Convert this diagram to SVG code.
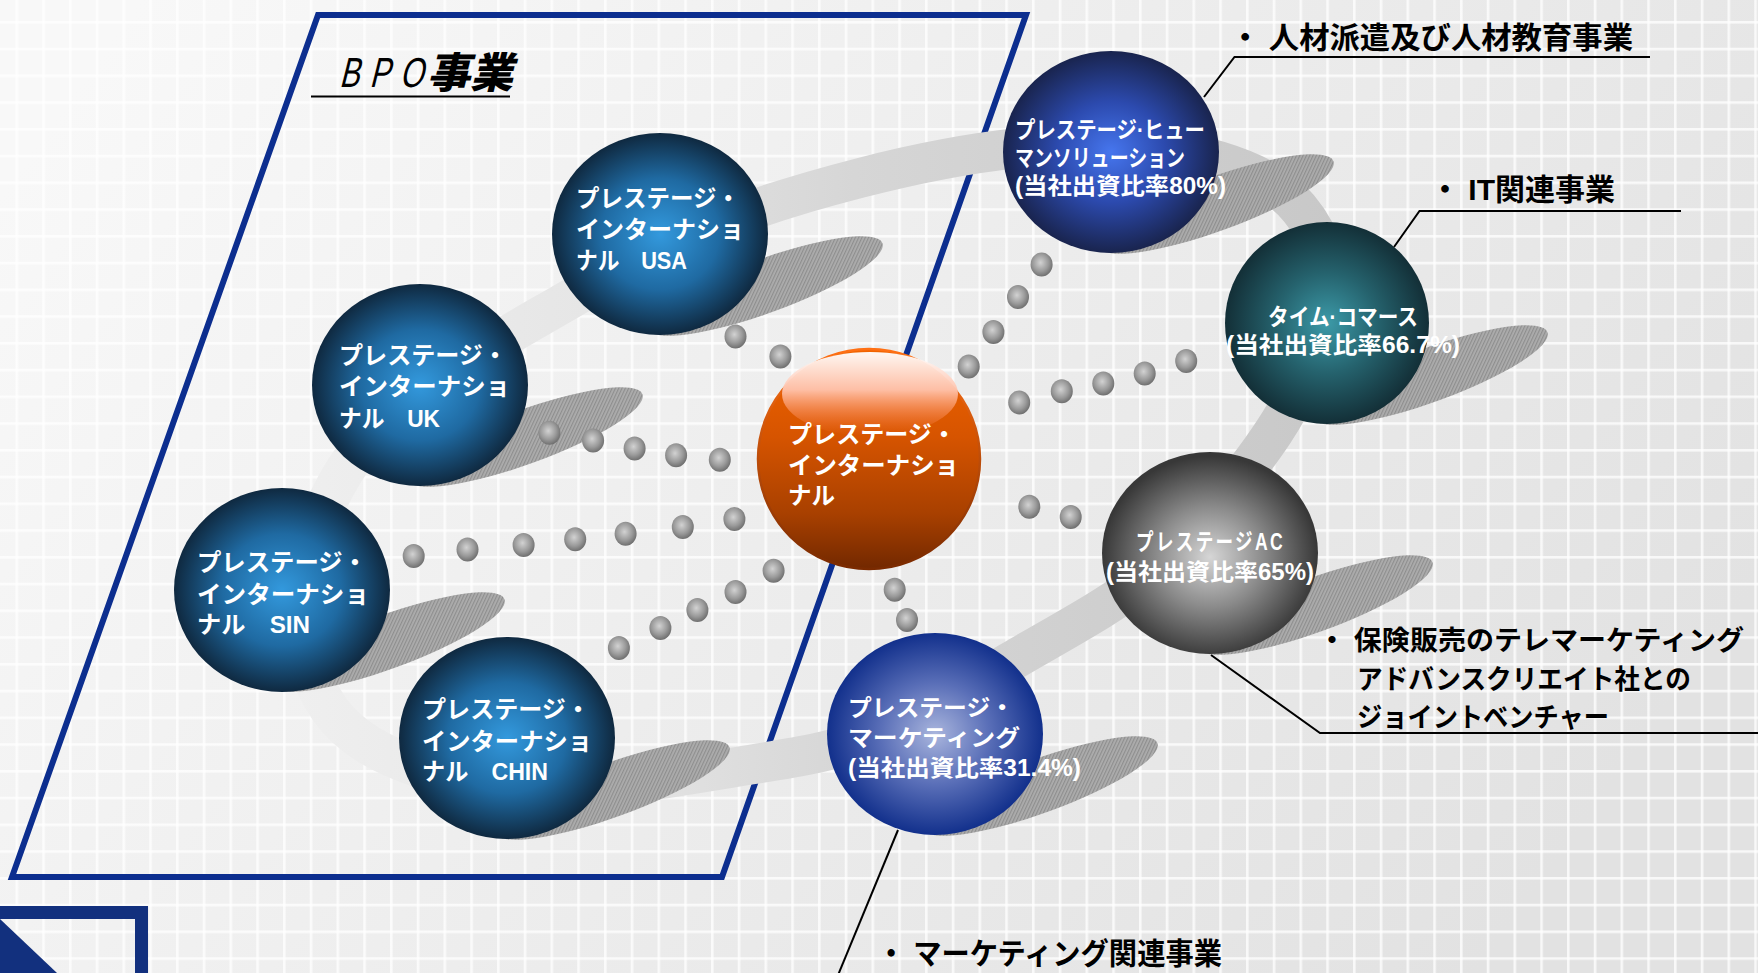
<svg xmlns="http://www.w3.org/2000/svg" width="1758" height="973" viewBox="0 0 1758 973">
  <defs>
    <linearGradient id="bg" x1="0" y1="0.2" x2="1" y2="0.6">
      <stop offset="0" stop-color="#f8f8f8"/>
      <stop offset="0.45" stop-color="#eeeeee"/>
      <stop offset="1" stop-color="#e2e2e2"/>
    </linearGradient>
    <pattern id="grid" x="15.5" y="21" width="26.75" height="26.75" patternUnits="userSpaceOnUse">
      <rect x="0" y="0" width="2.6" height="26.75" fill="#ffffff" opacity="0.75"/>
      <rect x="0" y="0" width="26.75" height="2.6" fill="#ffffff" opacity="0.75"/>
    </pattern>
    <linearGradient id="ringGrad" gradientUnits="userSpaceOnUse" x1="260" y1="0" x2="1340" y2="0">
      <stop offset="0" stop-color="#f0f0f0"/>
      <stop offset="0.3" stop-color="#e6e6e6"/>
      <stop offset="0.55" stop-color="#d6d6d6"/>
      <stop offset="1" stop-color="#c8c8c8"/>
    </linearGradient>
    <pattern id="hatch" width="3" height="3" patternUnits="userSpaceOnUse" patternTransform="rotate(45)">
      <rect width="3" height="3" fill="#adadad"/>
      <rect width="1.2" height="3" fill="#8e8e8e"/>
    </pattern>
    <radialGradient id="dotGrad" cx="0.45" cy="0.42" r="0.6">
      <stop offset="0" stop-color="#d2d2d2"/>
      <stop offset="0.6" stop-color="#9a9a9a"/>
      <stop offset="1" stop-color="#6c6c6c"/>
    </radialGradient>
    <radialGradient id="gBpo" cx="0.5" cy="0.5" r="0.5">
      <stop offset="0" stop-color="#3399dd"/>
      <stop offset="0.55" stop-color="#1f6aa2"/>
      <stop offset="1" stop-color="#0f2940"/>
    </radialGradient>
    <radialGradient id="gHuman" cx="0.5" cy="0.5" r="0.5">
      <stop offset="0" stop-color="#4676ee"/>
      <stop offset="0.5" stop-color="#2c4aae"/>
      <stop offset="1" stop-color="#19244e"/>
    </radialGradient>
    <radialGradient id="gTime" cx="0.5" cy="0.5" r="0.5">
      <stop offset="0" stop-color="#3c9aa8"/>
      <stop offset="0.5" stop-color="#25626d"/>
      <stop offset="1" stop-color="#132f37"/>
    </radialGradient>
    <radialGradient id="gAc" cx="0.5" cy="0.52" r="0.5">
      <stop offset="0" stop-color="#d6d6d6"/>
      <stop offset="0.5" stop-color="#8a8a8a"/>
      <stop offset="1" stop-color="#383838"/>
    </radialGradient>
    <radialGradient id="gMkt" cx="0.5" cy="0.5" r="0.5">
      <stop offset="0" stop-color="#a9b5dd"/>
      <stop offset="0.5" stop-color="#5a6fb8"/>
      <stop offset="1" stop-color="#12308c"/>
    </radialGradient>
    <linearGradient id="gOrange" x1="0" y1="0" x2="0" y2="1">
      <stop offset="0" stop-color="#f26400"/>
      <stop offset="0.4" stop-color="#d65400"/>
      <stop offset="0.75" stop-color="#a84000"/>
      <stop offset="1" stop-color="#722800"/>
    </linearGradient>
    <linearGradient id="gOrangeRim" x1="0" y1="0" x2="0" y2="1">
      <stop offset="0" stop-color="#ff7014"/>
      <stop offset="1" stop-color="#7a2a00"/>
    </linearGradient>
    <linearGradient id="gGloss" x1="0" y1="0" x2="0" y2="1">
      <stop offset="0" stop-color="#ffffff"/>
      <stop offset="0.45" stop-color="#ffc4ae"/>
      <stop offset="1" stop-color="#ff7a40" stop-opacity="0"/>
    </linearGradient>
    <style>
      .lbl{font-family:"Liberation Sans","Noto Sans CJK JP",sans-serif;font-weight:700;fill:#ffffff;font-size:24px}
      .sm{font-size:23px}
      .note{font-family:"Liberation Sans","Noto Sans CJK JP",sans-serif;font-weight:700;fill:#000000;font-size:30px}
      .leader{fill:none;stroke:#000000;stroke-width:2}
      .dot{fill:url(#dotGrad)}
      .shadow{fill:url(#hatch)}
      .frame{fill:none;stroke:#0c2e8f;stroke-width:6;stroke-linejoin:miter}
    </style>
  </defs>

  <!-- background with soft grid -->
  <rect width="1758" height="973" fill="url(#bg)"/>
  <rect width="1758" height="973" fill="url(#grid)"/>

  <!-- BPO business frame -->
  <g id="bpo-frame">
    <polygon class="frame" points="318,15 1026,15 722,877 12,877"/>
    <text x="0" y="0" transform="translate(339,87) skewX(-14) scale(0.72,1)" font-family="'Liberation Sans',sans-serif" font-size="42" letter-spacing="14" fill="#000">BPO</text>
    <text x="0" y="0" transform="translate(427,88) skewX(-14)" font-family="'Noto Sans CJK JP',sans-serif" font-weight="900" font-size="42" fill="#000" textLength="86" lengthAdjust="spacingAndGlyphs">事業</text>
    <line x1="311" y1="96.5" x2="510" y2="96.5" stroke="#000" stroke-width="2"/>
  </g>

  <!-- ring band linking the group companies -->
  <g id="ring">
    <path fill="none" stroke="url(#ringGrad)" stroke-width="40" d="M300,600 C302.5,560 321.7,506.7 345,470 C368.3,433.3 404.2,407.5 440,380 C475.8,352.5 516.7,330 560,305 C603.3,280 650,251.2 700,230 C750,208.8 806.7,191.7 860,178 C913.3,164.3 970,153 1020,148 C1070,143 1116.7,141 1160,148 C1203.3,155 1251.7,168 1280,190 C1308.3,212 1326.7,247.5 1330,280 C1333.3,312.5 1315,352 1300,385 C1285,418 1265,446.3 1240,478 C1215,509.7 1188.3,544.3 1150,575 C1111.7,605.7 1055,635.3 1010,662 C965,688.7 926.7,717.3 880,735 C833.3,752.7 783.3,759.2 730,768 C676.7,776.8 611.7,788 560,788 C508.3,788 458.3,781 420,768 C381.7,755 350,738 330,710 C310,682 297.5,640 300,600Z"/>
  </g>

  <!-- cast shadows of the spheres -->
  <g id="shadows">
    <ellipse class="shadow" cx="765" cy="286" rx="125" ry="27" transform="rotate(-20 765 286)"/>
    <ellipse class="shadow" cx="525" cy="437" rx="125" ry="27" transform="rotate(-20 525 437)"/>
    <ellipse class="shadow" cx="387" cy="642" rx="125" ry="27" transform="rotate(-20 387 642)"/>
    <ellipse class="shadow" cx="612" cy="790" rx="125" ry="27" transform="rotate(-20 612 790)"/>
    <ellipse class="shadow" cx="1216" cy="204" rx="125" ry="27" transform="rotate(-20 1216 204)"/>
    <ellipse class="shadow" cx="1430" cy="375" rx="125" ry="27" transform="rotate(-20 1430 375)"/>
    <ellipse class="shadow" cx="1315" cy="605" rx="125" ry="27" transform="rotate(-20 1315 605)"/>
    <ellipse class="shadow" cx="1040" cy="786" rx="125" ry="27" transform="rotate(-20 1040 786)"/>
  </g>

  <!-- dotted connectors from the centre company -->
  <g id="connectors">
    <g id="link-usa">
      <ellipse class="dot" cx="735.5" cy="336.4" rx="11" ry="12"/>
      <ellipse class="dot" cx="780.4" cy="356.5" rx="11" ry="12"/>
    </g>
    <g id="link-uk">
      <ellipse class="dot" cx="549.4" cy="432.8" rx="11" ry="12"/>
      <ellipse class="dot" cx="593.1" cy="440.6" rx="11" ry="12"/>
      <ellipse class="dot" cx="634.6" cy="448.5" rx="11" ry="12"/>
      <ellipse class="dot" cx="676.1" cy="455.2" rx="11" ry="12"/>
      <ellipse class="dot" cx="719.8" cy="459.7" rx="11" ry="12"/>
    </g>
    <g id="link-sin">
      <ellipse class="dot" cx="413.7" cy="556.1" rx="11" ry="12"/>
      <ellipse class="dot" cx="467.5" cy="549.4" rx="11" ry="12"/>
      <ellipse class="dot" cx="523.6" cy="544.9" rx="11" ry="12"/>
      <ellipse class="dot" cx="575.2" cy="539.3" rx="11" ry="12"/>
      <ellipse class="dot" cx="625.6" cy="533.7" rx="11" ry="12"/>
      <ellipse class="dot" cx="682.8" cy="527" rx="11" ry="12"/>
      <ellipse class="dot" cx="734.4" cy="519.1" rx="11" ry="12"/>
    </g>
    <g id="link-chin">
      <ellipse class="dot" cx="618.9" cy="648" rx="11" ry="12"/>
      <ellipse class="dot" cx="660.4" cy="627.9" rx="11" ry="12"/>
      <ellipse class="dot" cx="697.4" cy="609.9" rx="11" ry="12"/>
      <ellipse class="dot" cx="735.5" cy="592" rx="11" ry="12"/>
      <ellipse class="dot" cx="773.6" cy="570.7" rx="11" ry="12"/>
    </g>
    <g id="link-human">
      <ellipse class="dot" cx="1041.6" cy="264.6" rx="11" ry="12"/>
      <ellipse class="dot" cx="1018" cy="297.1" rx="11" ry="12"/>
      <ellipse class="dot" cx="993.4" cy="331.9" rx="11" ry="12"/>
      <ellipse class="dot" cx="968.7" cy="366.6" rx="11" ry="12"/>
    </g>
    <g id="link-time">
      <ellipse class="dot" cx="1019.2" cy="402.5" rx="11" ry="12"/>
      <ellipse class="dot" cx="1061.8" cy="391.3" rx="11" ry="12"/>
      <ellipse class="dot" cx="1103.3" cy="383.4" rx="11" ry="12"/>
      <ellipse class="dot" cx="1144.7" cy="373.4" rx="11" ry="12"/>
      <ellipse class="dot" cx="1186.2" cy="361" rx="11" ry="12"/>
    </g>
    <g id="link-ac">
      <ellipse class="dot" cx="1029.3" cy="506.8" rx="11" ry="12"/>
      <ellipse class="dot" cx="1070.7" cy="516.9" rx="11" ry="12"/>
    </g>
    <g id="link-marketing">
      <ellipse class="dot" cx="894.7" cy="589.8" rx="11" ry="12"/>
      <ellipse class="dot" cx="907" cy="620" rx="11" ry="12"/>
    </g>
  </g>

  <!-- company spheres -->
  <g id="node-usa">
    <ellipse cx="660" cy="234" rx="108" ry="101" fill="url(#gBpo)"/>
    <text class="lbl"><tspan x="576" y="207" textLength="164" lengthAdjust="spacingAndGlyphs">プレステージ・</tspan><tspan x="576" y="238" textLength="168" lengthAdjust="spacingAndGlyphs">インターナショ</tspan><tspan x="576" y="269" textLength="111" lengthAdjust="spacingAndGlyphs">ナル　USA</tspan></text>
  </g>
  <g id="node-uk">
    <ellipse cx="420" cy="385" rx="108" ry="101" fill="url(#gBpo)"/>
    <text class="lbl"><tspan x="339" y="364" textLength="168" lengthAdjust="spacingAndGlyphs">プレステージ・</tspan><tspan x="339" y="395" textLength="171" lengthAdjust="spacingAndGlyphs">インターナショ</tspan><tspan x="339" y="427" textLength="101" lengthAdjust="spacingAndGlyphs">ナル　UK</tspan></text>
  </g>
  <g id="node-sin">
    <ellipse cx="282" cy="590" rx="108" ry="102" fill="url(#gBpo)"/>
    <text class="lbl"><tspan x="197" y="571" textLength="170" lengthAdjust="spacingAndGlyphs">プレステージ・</tspan><tspan x="197" y="603" textLength="172" lengthAdjust="spacingAndGlyphs">インターナショ</tspan><tspan x="197" y="633" textLength="113" lengthAdjust="spacingAndGlyphs">ナル　SIN</tspan></text>
  </g>
  <g id="node-chin">
    <ellipse cx="507" cy="738" rx="108" ry="101" fill="url(#gBpo)"/>
    <text class="lbl"><tspan x="422" y="718" textLength="168" lengthAdjust="spacingAndGlyphs">プレステージ・</tspan><tspan x="422" y="750" textLength="170" lengthAdjust="spacingAndGlyphs">インターナショ</tspan><tspan x="422" y="780" textLength="126" lengthAdjust="spacingAndGlyphs">ナル　CHIN</tspan></text>
  </g>
  <g id="node-center">
    <ellipse cx="869" cy="459" rx="111" ry="110" fill="url(#gOrange)" stroke="url(#gOrangeRim)" stroke-width="2.5"/>
    <ellipse cx="870" cy="394" rx="88" ry="42" fill="url(#gGloss)" opacity="0.95"/>
    <text class="lbl"><tspan x="788" y="443" textLength="168" lengthAdjust="spacingAndGlyphs">プレステージ・</tspan><tspan x="788" y="474" textLength="171" lengthAdjust="spacingAndGlyphs">インターナショ</tspan><tspan x="788" y="504" textLength="47" lengthAdjust="spacingAndGlyphs">ナル</tspan></text>
  </g>
  <g id="node-human">
    <ellipse cx="1111" cy="152" rx="108" ry="101" fill="url(#gHuman)"/>
    <text class="lbl sm"><tspan x="1015" y="138" textLength="190" lengthAdjust="spacingAndGlyphs">プレステージ·ヒュー</tspan><tspan x="1015" y="166" textLength="170" lengthAdjust="spacingAndGlyphs">マンソリューション</tspan><tspan x="1015" y="194" textLength="211" lengthAdjust="spacingAndGlyphs">(当社出資比率80%)</tspan></text>
  </g>
  <g id="node-time">
    <ellipse cx="1327" cy="323" rx="102" ry="101" fill="url(#gTime)"/>
    <text class="lbl sm"><tspan x="1268" y="325" textLength="150" lengthAdjust="spacingAndGlyphs">タイム·コマース</tspan><tspan x="1226" y="353" textLength="234" lengthAdjust="spacingAndGlyphs">(当社出資比率66.7%)</tspan></text>
  </g>
  <g id="node-ac">
    <ellipse cx="1210" cy="553" rx="108" ry="101" fill="url(#gAc)"/>
    <text class="lbl sm"><tspan x="1136" y="550" textLength="149" lengthAdjust="spacingAndGlyphs" letter-spacing="3">プレステージAC</tspan><tspan x="1106" y="580" textLength="208" lengthAdjust="spacingAndGlyphs">(当社出資比率65%)</tspan></text>
  </g>
  <g id="node-marketing">
    <ellipse cx="935" cy="734" rx="108" ry="101" fill="url(#gMkt)"/>
    <text class="lbl sm"><tspan x="848" y="716" textLength="166" lengthAdjust="spacingAndGlyphs">プレステージ・</tspan><tspan x="848" y="746" textLength="172" lengthAdjust="spacingAndGlyphs">マーケティング</tspan><tspan x="848" y="776" textLength="233" lengthAdjust="spacingAndGlyphs">(当社出資比率31.4%)</tspan></text>
  </g>

  <!-- business-line callouts -->
  <g id="leaders">
    <polyline class="leader" points="1204,97 1234.5,57 1650,57"/>
    <polyline class="leader" points="1394,247 1419.5,211 1681,211"/>
    <polyline class="leader" points="1211,655 1320,733 1758,733"/>
    <line class="leader" stroke-width="1.6" x1="898" y1="830" x2="836" y2="980"/>
  </g>
  <g id="notes">
    <text class="note" x="1230" y="48" textLength="403" lengthAdjust="spacingAndGlyphs">・ 人材派遣及び人材教育事業</text>
    <text class="note" x="1430" y="200" textLength="185" lengthAdjust="spacingAndGlyphs">・ IT関連事業</text>
    <text class="note" style="font-size:27px"><tspan x="1318" y="650" textLength="426" lengthAdjust="spacingAndGlyphs">・ 保険販売のテレマーケティング</tspan><tspan x="1357" y="689" textLength="334" lengthAdjust="spacingAndGlyphs">アドバンスクリエイト社との</tspan><tspan x="1357" y="727" textLength="252" lengthAdjust="spacingAndGlyphs">ジョイントベンチャー</tspan></text>
    <text class="note" x="877" y="964" textLength="345" lengthAdjust="spacingAndGlyphs">・ マーケティング関連事業</text>
  </g>

  <!-- corner ornament -->
  <g id="corner-mark">
    <path d="M-10,912.5 H141.5 V985" fill="none" stroke="#12307e" stroke-width="13"/>
    <polygon points="0,919 57,973 0,973" fill="#12307e"/>
  </g>
</svg>
